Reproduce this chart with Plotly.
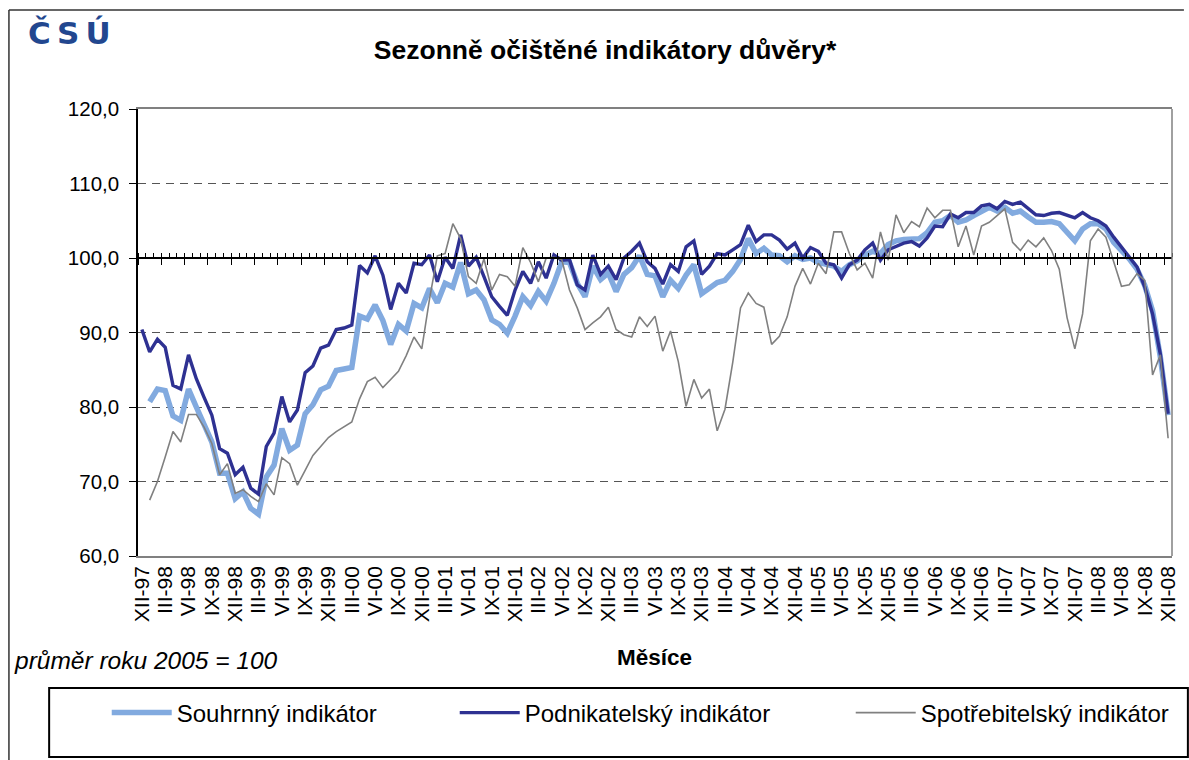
import plotly.graph_objects as go

# ---------------- data ----------------
months_roman = ["I", "II", "III", "IV", "V", "VI", "VII", "VIII", "IX", "X", "XI", "XII"]
years = ["97", "98", "99", "00", "01", "02", "03", "04", "05", "06", "07", "08"]
# monthly categories XII-97 ... XII-08
categories = ["XII-97"] + [f"{m}-{y}" for y in years[1:] for m in months_roman]

tick_labels = [
    "XII-97", "III-98", "VI-98", "IX-98", "XII-98", "III-99", "VI-99", "IX-99", "XII-99",
    "III-00", "VI-00", "IX-00", "XII-00", "III-01", "VI-01", "IX-01", "XII-01",
    "III-02", "VI-02", "IX-02", "XII-02", "III-03", "VI-03", "IX-03", "XII-03",
    "III-04", "VI-04", "IX-04", "XII-04", "III-05", "VI-05", "IX-05", "XII-05",
    "III-06", "VI-06", "IX-06", "XII-06", "III-07", "VI-07", "IX-07", "XII-07",
    "III-08", "VI-08", "IX-08", "XII-08",
]

souhrnny = [
    None, 80.7, 82.4, 82.2, 78.8, 78.2, 82.4, 80.0, 77.8, 75.3,
    71.1, 71.1, 67.7, 68.6, 66.4, 65.6, 70.6, 72.2, 77.1, 74.2,
    74.9, 79.1, 80.3, 82.3, 82.8, 84.9, 85.1, 85.3, 92.2, 91.8,
    93.7, 91.6, 88.4, 91.1, 90.2, 93.9, 93.3, 95.9, 94.0, 96.6,
    96.1, 99.4, 95.2, 95.7, 94.4, 91.7, 91.1, 89.9, 92.2, 94.8,
    93.6, 95.5, 94.2, 96.6, 99.5, 99.4, 96.6, 94.8, 98.9, 97.1,
    98.0, 95.5, 97.8, 98.7, 100.3, 97.8, 97.6, 94.8, 97.0, 95.9,
    97.7, 99.1, 95.2, 96.0, 96.7, 97.0, 98.2, 99.8, 102.6, 100.6,
    101.3, 100.4, 100.3, 99.5, 100.3, 99.8, 100.0, 99.4, 99.2, 98.9,
    98.2, 99.1, 99.6, 100.4, 100.9, 100.6, 101.8, 102.3, 102.5, 102.6,
    102.6, 103.4, 104.8, 105.0, 105.7, 104.8, 105.1, 105.7, 106.3, 106.8,
    106.3, 106.8, 106.0, 106.3, 105.5, 104.8, 104.8, 104.9, 104.6, 103.4,
    102.3, 103.9, 104.6, 104.6, 103.9, 102.1, 101.0, 99.9, 98.5, 96.3,
    92.9, 86.7, 78.9,
]

podnikatelsky = [
    90.4, 87.4, 89.1, 88.0, 82.9, 82.4, 87.0, 83.8, 81.3, 78.9,
    74.4, 73.8, 70.9, 71.9, 69.1, 68.3, 74.7, 76.5, 81.4, 78.0,
    79.6, 84.6, 85.5, 87.9, 88.3, 90.4, 90.6, 91.0, 99.0, 98.0,
    100.3, 97.7, 93.1, 96.6, 95.3, 99.3, 99.1, 100.4, 96.8, 100.1,
    98.6, 103.1, 98.9, 100.1, 97.5, 94.8, 93.5, 92.3, 95.7, 98.2,
    96.6, 99.5, 97.3, 100.4, 99.7, 99.8, 96.4, 95.7, 100.4, 97.8,
    98.9, 97.1, 100.0, 100.9, 102.0, 99.5, 98.6, 96.5, 99.1, 98.2,
    101.5, 102.3, 97.8, 98.9, 100.6, 100.4, 101.1, 101.8, 104.4, 102.2,
    103.1, 103.1, 102.4, 101.2, 102.0, 100.0, 101.4, 100.9, 99.3, 99.1,
    97.3, 99.1, 99.7, 101.1, 102.0, 99.7, 101.1, 101.5, 102.0, 102.2,
    101.6, 102.7, 104.3, 104.2, 105.9, 105.4, 106.1, 106.1, 107.0, 107.2,
    106.6, 107.6, 107.2, 107.5, 106.6, 105.8, 105.7, 106.0, 106.1, 105.8,
    105.4, 106.1, 105.4, 105.0, 104.3, 102.8, 101.5, 100.2, 98.8, 96.1,
    92.5, 87.1, 79.1,
]

spotrebitelsky = [
    None, 67.5, 70.0, 73.3, 76.7, 75.3, 79.0, 79.0, 77.3, 75.1,
    70.9, 72.4, 68.4, 68.9, 68.0, 67.3, 69.7, 68.2, 73.2, 72.4,
    69.5, 71.5, 73.5, 74.7, 75.9, 76.7, 77.4, 78.0, 81.1, 83.4,
    84.0, 82.6, 83.7, 84.8, 86.9, 89.4, 87.8, 94.5, 100.3, 100.6,
    104.6, 102.6, 97.5, 96.6, 99.9, 95.7, 97.8, 97.5, 96.2, 101.4,
    99.4, 96.8, 100.0, 100.1, 99.8, 95.7, 93.3, 90.4, 91.3, 92.1,
    93.4, 90.4, 89.7, 89.4, 92.1, 90.8, 92.2, 87.5, 90.2, 86.1,
    80.1, 83.7, 81.2, 82.4, 76.8, 79.7, 86.0, 93.3, 95.3, 93.9,
    93.4, 88.4, 89.5, 92.1, 96.2, 98.6, 96.5, 99.3, 97.9, 103.5,
    103.5, 100.6, 98.4, 99.3, 97.3, 103.5, 99.7, 105.8, 103.4, 104.9,
    104.2, 106.7, 105.4, 106.4, 106.4, 101.5, 104.3, 100.4, 104.3, 104.8,
    105.7, 106.6, 102.1, 101.0, 102.4, 101.5, 102.7, 101.0, 98.5, 92.0,
    87.8, 92.5, 102.3, 103.9, 102.8, 99.6, 96.2, 96.4, 97.9, 97.0,
    84.3, 87.0, 75.8,
]

series_names = ["Souhrnný indikátor", "Podnikatelský indikátor", "Spotřebitelský indikátor"]

# ---------------- layout geometry ----------------
W, H = 1189, 760
L, R, T, B = 137.5, 10, 109, 204
PW, PH = W - L - R, H - T - B


def px_x(px):
    return (px - L) / PW


def px_y(py):
    return (H - B - py) / PH


FONT = "Liberation Sans, Arial, sans-serif"

fig = go.Figure()
fig.add_trace(go.Scatter(x=categories, y=souhrnny, name=series_names[0], mode="lines",
                         line=dict(color="#82AADF", width=5.5), legendwidth=273))
fig.add_trace(go.Scatter(x=categories, y=podnikatelsky, name=series_names[1], mode="lines",
                         line=dict(color="#2E3192", width=3.4), legendwidth=321))
fig.add_trace(go.Scatter(x=categories, y=spotrebitelsky, name=series_names[2], mode="lines",
                         line=dict(color="#808080", width=1.6)))
# helper axis that carries the category axis line at 100 (no data)
fig.add_trace(go.Scatter(x=[], y=[], xaxis="x2", showlegend=False, hoverinfo="skip"))

n = len(categories)
fig.update_layout(
    width=W, height=H,
    margin=dict(l=L, r=R, t=T, b=B),
    paper_bgcolor="white", plot_bgcolor="white",
    separators=", ",
    font=dict(family=FONT, size=20, color="black"),
    title=dict(text="<b>Sezonně očištěné indikátory důvěry*</b>", x=605 / W, xanchor="center",
               y=1 - 50 / H, yanchor="middle", font=dict(size=26.5, family=FONT)),
    xaxis=dict(type="category", range=[-0.5, n - 0.5], tickmode="array", tickvals=tick_labels,
               ticktext=tick_labels, tickangle=-90, ticks="", showgrid=False,
               showline=True, linecolor="#808080", linewidth=1.5, mirror=True,
               tickfont=dict(size=21), zeroline=False, fixedrange=True),
    xaxis2=dict(overlaying="x", anchor="free", position=px_y(258), range=[-0.5, n - 0.5],
                showline=True, linecolor="black", linewidth=1.5, showticklabels=False,
                showgrid=False, zeroline=False, tickmode="linear", tick0=-0.5, dtick=3,
                ticks="outside", ticklen=6, tickcolor="black", tickwidth=1.2,
                minor=dict(ticks="inside", ticklen=4, dtick=1, tick0=-0.5, tickcolor="black",
                           tickwidth=1.2, showgrid=False)),
    yaxis=dict(range=[60, 120], tick0=60, dtick=10, tickformat=".1f",
               showline=True, linecolor="black", linewidth=1.5,
               ticks="outside", ticklen=7, tickcolor="black", ticklabelstandoff=6,
               showgrid=True, gridcolor="#555555", griddash="8px,6px", gridwidth=1,
               zeroline=False, tickfont=dict(size=20.5)),
    showlegend=True,
    legend=dict(orientation="h", x=px_x(106), xanchor="left", y=px_y(713), yanchor="middle",
                bgcolor="rgba(0,0,0,0)", borderwidth=0, itemwidth=60,
                font=dict(size=24, family=FONT), itemclick=False, itemdoubleclick=False),
)

shapes = [
    # right border of plot area
    dict(type="line", xref="x domain", yref="y domain", x0=1, x1=1, y0=0, y1=1,
         line=dict(color="#808080", width=1.5)),
    # outer chart border (left and top)
    dict(type="line", xref="paper", yref="paper", x0=px_x(7.5), x1=px_x(7.5), y0=px_y(10), y1=px_y(762),
         line=dict(color="#333333", width=1.5)),
    dict(type="line", xref="paper", yref="paper", x0=px_x(7.5), x1=px_x(1191), y0=px_y(10), y1=px_y(10),
         line=dict(color="#333333", width=1.5)),
    # legend box
    dict(type="rect", xref="paper", yref="paper", x0=px_x(48), x1=px_x(1195), y0=px_y(757), y1=px_y(688),
         line=dict(color="black", width=2), fillcolor="rgba(0,0,0,0)"),
]
fig.update_layout(shapes=shapes)

annotations = [
    dict(text="<b>Č\u2009S\u2009Ú</b>", xref="paper", yref="paper", x=px_x(25), y=px_y(33), xanchor="left",
         yanchor="middle", showarrow=False, font=dict(size=31, color="#22478F", family="DejaVu Sans")),
    dict(text="<b>Měsíce</b>", xref="paper", yref="paper", x=px_x(658), y=px_y(657), xanchor="center",
         yanchor="middle", showarrow=False, font=dict(size=22.5, family=FONT)),
    dict(text="<i>průměr roku 2005 = 100</i>", xref="paper", yref="paper", x=px_x(11), y=px_y(660),
         xanchor="left", yanchor="middle", showarrow=False, font=dict(size=24.5, family=FONT)),
]
fig.update_layout(annotations=annotations)

fig.write_html("out.html", config={"displayModeBar": False},
               post_script="document.body.style.margin='0';")
